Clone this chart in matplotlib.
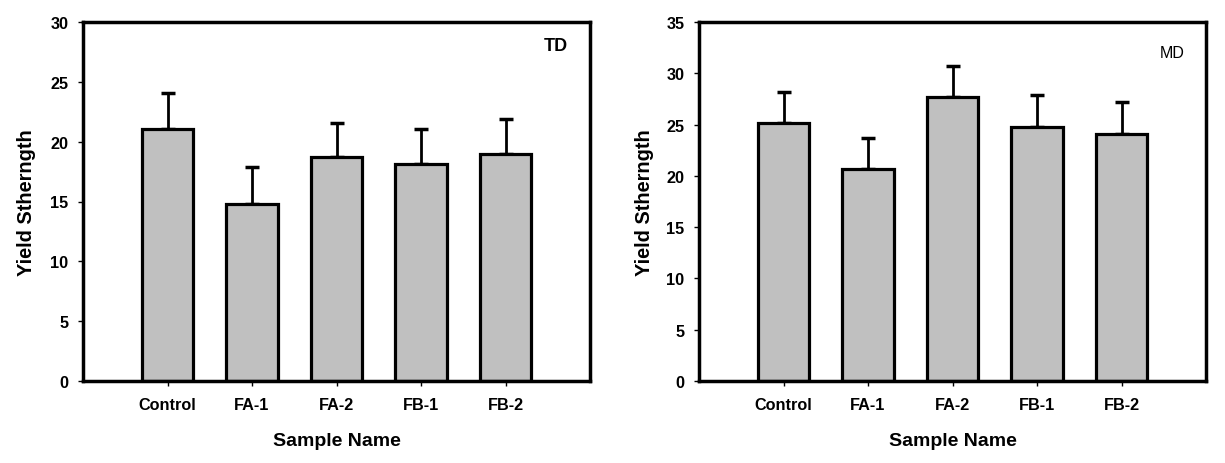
import matplotlib
matplotlib.use("Agg")
import matplotlib.pyplot as plt
import numpy as np

plt.rcParams['font.family'] = ['Liberation Sans', 'DejaVu Sans']

categories = ["Control", "FA-1", "FA-2", "FB-1", "FB-2"]
td_values = [21.05, 14.8, 18.7, 18.1, 19.0]
td_errors = [3.0, 3.1, 2.9, 3.0, 2.9]
md_values = [25.2, 20.7, 27.7, 24.8, 24.1]
md_errors = [3.0, 3.0, 3.0, 3.1, 3.1]
y_label = "Yield Sthern" "gth"
x_label = "Sample Name"

W, H = 1225, 464
fig = plt.figure(figsize=(W / 100, H / 100), dpi=100)
ax1 = fig.add_axes([83 / W, (H - 382) / H, 507 / W, 359 / H])
ax2 = fig.add_axes([699 / W, (H - 382) / H, 507 / W, 359 / H])

def draw(ax, vals, errs, ymax, label, bold, lx, ly):
    x = np.arange(len(categories))
    ax.errorbar(x, vals, yerr=[np.zeros(len(errs)), errs], fmt='none',
                ecolor='black', elinewidth=2.0, capsize=4.7, capthick=2.5, zorder=1)
    ax.bar(x, vals, width=0.61, color='#c0c0c0', edgecolor='black', linewidth=2.3, zorder=2)
    ax.set_xlim(-1.0, 5.0)
    ax.set_ylim(0, ymax)
    ax.set_yticks(np.arange(0, ymax + 1, 5))
    ax.set_xticks(x)
    ax.set_xticklabels(categories)
    for s in ax.spines.values():
        s.set_linewidth(2.5)
    ax.tick_params(axis='both', direction='out', length=3.5, width=1.0)
    ax.tick_params(axis='y', pad=7, labelsize=11.7)
    ax.tick_params(axis='x', pad=8, labelsize=11.7)
    for t in ax.get_xticklabels() + ax.get_yticklabels():
        t.set_fontweight('bold')
    ax.set_xlabel(x_label, fontsize=14, fontweight='bold', va='center')
    ax.xaxis.set_label_coords(0.5, -0.167)
    ax.set_ylabel(y_label, fontsize=14.4, fontweight='bold', va='center')
    ax.text(lx, ly, label, transform=ax.transAxes, ha='right', va='center',
            fontsize=13 if bold else 11.5, fontweight='bold' if bold else 'normal')

draw(ax1, td_values, td_errors, 30, "TD", True, 0.957, 0.935)
draw(ax2, md_values, md_errors, 35, "MD", False, 0.958, 0.914)
ax1.yaxis.set_label_coords(-0.112, 0.5)
ax2.yaxis.set_label_coords(-0.108, 0.5)

fig.savefig("out.png", dpi=100)
